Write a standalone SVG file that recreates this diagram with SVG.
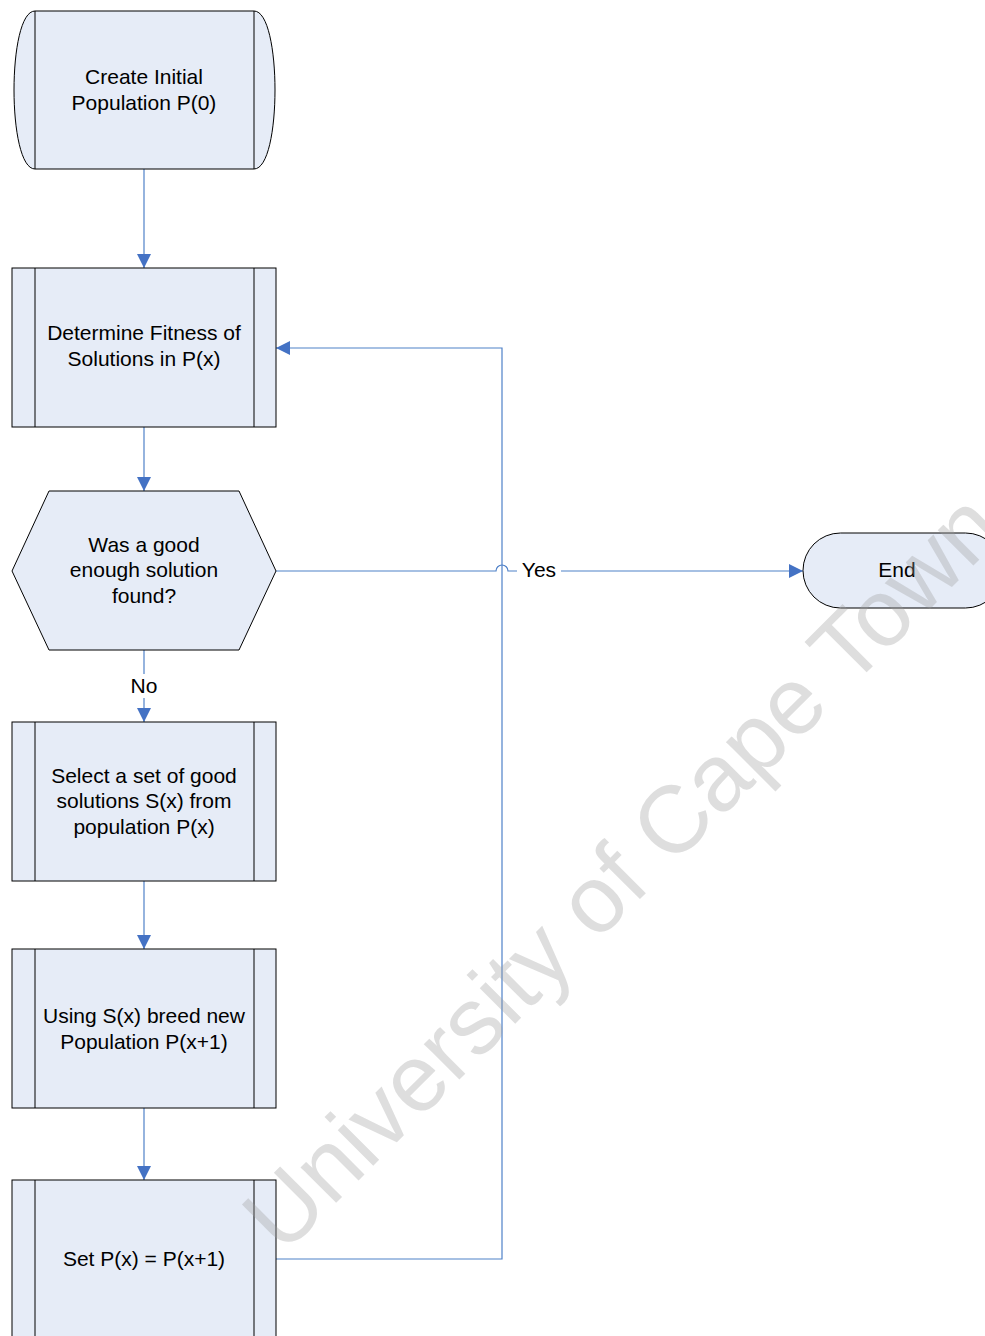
<svg xmlns="http://www.w3.org/2000/svg" width="985" height="1336" viewBox="0 0 985 1336">
  <style>
    .shape { fill: #e6ecf7; stroke: #000; stroke-width: 1; }
    .bar { stroke: #000; stroke-width: 1; fill: none; }
    .lbl { font-family: "Liberation Sans", Arial, sans-serif; font-size: 21px; fill: #000; text-anchor: middle; }
    .edge { fill: none; stroke: #4f81c8; stroke-width: 1.2; }
    .mark { font-family: "Liberation Sans", Arial, sans-serif; font-size: 95px; fill: #9a9a9a; fill-opacity: 0.33; }
  </style>
  <defs>
    <marker id="arrow" markerWidth="15" markerHeight="15" refX="14" refY="7.5" orient="auto" markerUnits="userSpaceOnUse">
      <path d="M0,0.5 L14,7.5 L0,14.5 Z" fill="#4472c4"/>
    </marker>
  </defs>
  <rect width="985" height="1336" fill="#fff"/>

  <g id="connectors">
    <path class="edge" d="M144,169 V268" marker-end="url(#arrow)"/>
    <path class="edge" d="M144,427 V491" marker-end="url(#arrow)"/>
    <path class="edge" d="M144,650 V722" marker-end="url(#arrow)"/>
    <path class="edge" d="M144,881 V949" marker-end="url(#arrow)"/>
    <path class="edge" d="M144,1108 V1180" marker-end="url(#arrow)"/>
    <path class="edge" d="M276,1259 H502 V348 H276" marker-end="url(#arrow)"/>
    <path class="edge" d="M276,571 H496 A6,6 0 0 1 508,571 H803" marker-end="url(#arrow)"/>
    <rect x="132" y="674" width="24" height="24" fill="#fff"/>
    <text class="lbl" x="144" y="693">No</text>
    <rect x="517" y="560" width="44" height="22" fill="#fff"/>
    <text class="lbl" x="539" y="577">Yes</text>
  </g>

  <g id="start">
    <path class="shape" d="M35,11 H254 C282,11 282,169 254,169 H35 C7,169 7,11 35,11 Z"/>
    <path class="bar" d="M35,11 V169 M254,11 V169"/>
    <text class="lbl" x="144" y="84">Create Initial</text>
    <text class="lbl" x="144" y="110">Population P(0)</text>
  </g>

  <g id="fitness">
    <rect class="shape" x="12" y="268" width="264" height="159"/>
    <path class="bar" d="M35,268 V427 M254,268 V427"/>
    <text class="lbl" x="144" y="340">Determine Fitness of</text>
    <text class="lbl" x="144" y="366">Solutions in P(x)</text>
  </g>

  <g id="decision">
    <path class="shape" d="M12,571 L49,491 L239,491 L276,571 L239,650 L49,650 Z"/>
    <text class="lbl" x="144" y="552">Was a good</text>
    <text class="lbl" x="144" y="577">enough solution</text>
    <text class="lbl" x="144" y="603">found?</text>
  </g>

  <g id="select">
    <rect class="shape" x="12" y="722" width="264" height="159"/>
    <path class="bar" d="M35,722 V881 M254,722 V881"/>
    <text class="lbl" x="144" y="783">Select a set of good</text>
    <text class="lbl" x="144" y="808">solutions S(x) from</text>
    <text class="lbl" x="144" y="834">population P(x)</text>
  </g>

  <g id="breed">
    <rect class="shape" x="12" y="949" width="264" height="159"/>
    <path class="bar" d="M35,949 V1108 M254,949 V1108"/>
    <text class="lbl" x="144" y="1023">Using S(x) breed new</text>
    <text class="lbl" x="144" y="1049">Population P(x+1)</text>
  </g>

  <g id="update">
    <rect class="shape" x="12" y="1180" width="264" height="170"/>
    <path class="bar" d="M35,1180 V1350 M254,1180 V1350"/>
    <text class="lbl" x="144" y="1266">Set P(x) = P(x+1)</text>
  </g>

  <g id="end">
    <rect class="shape" x="803" y="533" width="200" height="75" rx="37.5" ry="37.5"/>
    <text class="lbl" x="897" y="577">End</text>
  </g>

  <!-- diagonal watermark across the sheet -->
  <text class="mark" transform="translate(283,1256) rotate(-45)">University of Cape Town</text>
</svg>
